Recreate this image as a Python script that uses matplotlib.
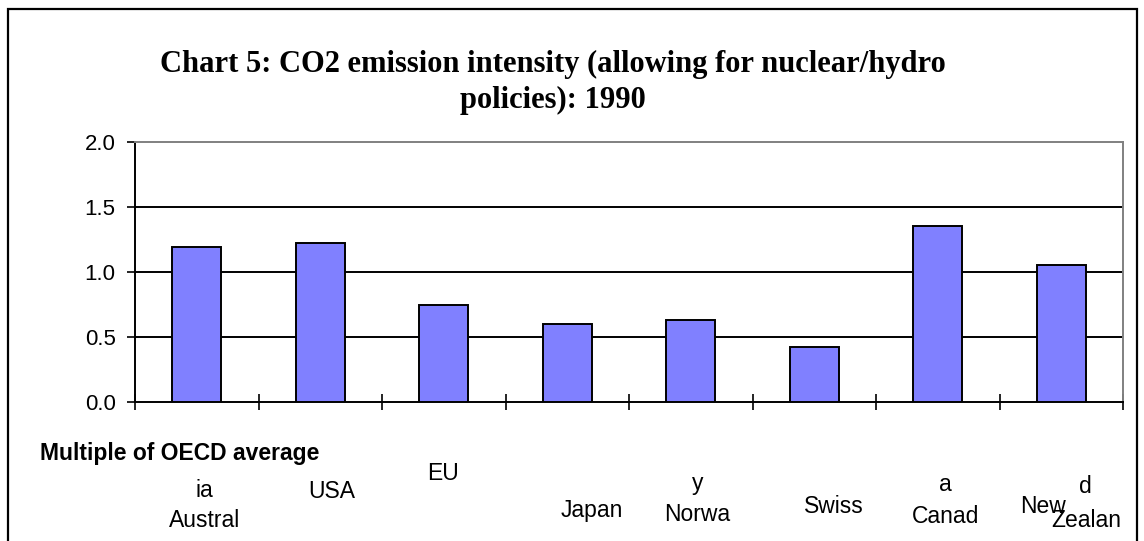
import matplotlib
matplotlib.use("Agg")
import matplotlib.pyplot as plt
import matplotlib.transforms as mtransforms
from matplotlib.patches import Rectangle

# --- data -------------------------------------------------------------
categories = ["Australia", "USA", "EU", "Japan", "Norway", "Swiss", "Canada", "New Zealand"]
values = [1.19, 1.22, 0.74, 0.60, 0.63, 0.42, 1.35, 1.05]
# category labels as they are broken across lines under the axis
label_parts = [["ia", "Austral"], ["USA"], ["EU"], ["Japan"],
               ["y", "Norwa"], ["Swiss"], ["a", "Canad"], ["New", "d", "Zealan"]]
y_ticks = [0.0, 0.5, 1.0, 1.5, 2.0]
title_lines = ["Chart 5: CO2 emission intensity (allowing for nuclear/hydro",
               "policies): 1990"]
y_caption = "Multiple of OECD average"

# --- layout (pixels on a 1144 x 541 canvas) ----------------------------
W, H = 1144, 541
# (x offset from category centre, baseline from top) for each label fragment
label_pos = [[(0.06, 497), (0.06, 527)], [(0.09, 498)], [(-0.005, 480)], [(0.20, 517)],
             [(0.053, 490), (0.053, 521)], [(0.155, 513)], [(0.062, 491), (0.062, 523)],
             [(-0.144, 513), (0.196, 493), (0.20, 527)]]

sans = "Liberation Sans"
serif = "Liberation Serif"

fig = plt.figure(figsize=(W / 100, H / 100), dpi=100)
fig.patch.set_facecolor("white")

# outer chart frame
fig.patches.append(Rectangle((8 / W, -0.05), (1137 - 8) / W, 1.05 - 9 / H,
                             transform=fig.transFigure, fill=False,
                             edgecolor="black", linewidth=1.6, clip_on=False))

ax = fig.add_axes([135 / W, 1 - 401.5 / H, (1123 - 135) / W, (401.5 - 141.7) / H])

x = list(range(len(categories)))
ax.bar(x, values, width=0.4, color="#8080FF", edgecolor="black", linewidth=1.4, zorder=3)

ax.set_xlim(-0.5, len(categories) - 0.5)
ax.set_ylim(0, 2.0)

# horizontal grid lines
for v in y_ticks[1:-1]:
    ax.axhline(v, color="black", linewidth=1.4, zorder=1)

for side in ("left", "bottom"):
    ax.spines[side].set_color("black")
    ax.spines[side].set_linewidth(1.4)
for side in ("top", "right"):
    ax.spines[side].set_color("#808080")
    ax.spines[side].set_linewidth(1.4)

ax.set_yticks(y_ticks)
ax.set_yticklabels([f"{v:.1f}" for v in y_ticks], fontfamily=sans, fontsize=16)
ax.tick_params(axis="y", direction="out", length=6, width=1.2, pad=8)

ax.set_xticks([i - 0.5 for i in range(len(categories) + 1)])
ax.set_xticklabels([])
ax.tick_params(axis="x", direction="inout", length=12, width=1.2)

# category labels below the axis
trans = mtransforms.blended_transform_factory(ax.transData, fig.transFigure)
for i, (parts, pos) in enumerate(zip(label_parts, label_pos)):
    for text, (dx, py) in zip(parts, pos):
        ax.text(i + dx, 1 - py / H, text, transform=trans, ha="center", va="baseline",
                fontfamily=sans, fontsize=16.5, clip_on=False)

fig.text(40 / W, 1 - 460 / H, y_caption, ha="left", va="baseline",
         fontfamily=sans, fontweight="bold", fontsize=16.5)

fig.text(553 / W, 1 - 72 / H, title_lines[0], ha="center", va="baseline",
         fontfamily=serif, fontweight="bold", fontsize=22)
fig.text(553 / W, 1 - 108 / H, title_lines[1], ha="center", va="baseline",
         fontfamily=serif, fontweight="bold", fontsize=22)

fig.savefig("out.png", dpi=100)
